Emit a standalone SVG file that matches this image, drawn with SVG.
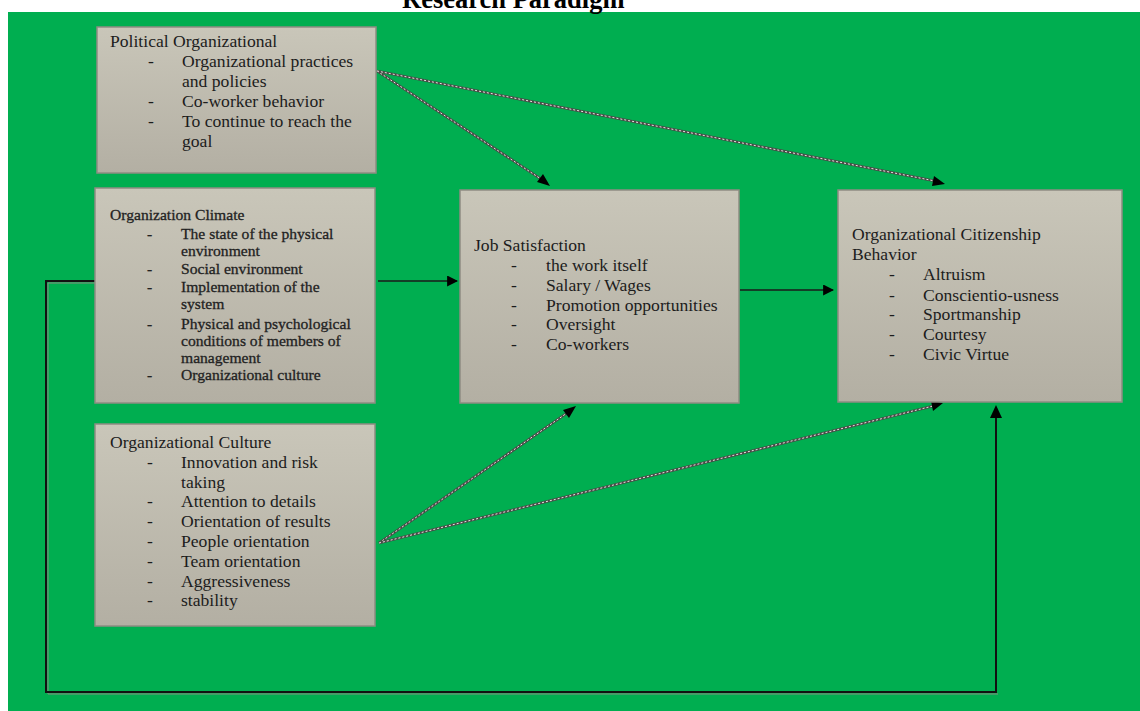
<svg xmlns="http://www.w3.org/2000/svg" width="1140" height="711" viewBox="0 0 1140 711">
<defs>
<linearGradient id="boxg" x1="0" y1="0" x2="0" y2="1">
<stop offset="0" stop-color="#c9c6b9"/>
<stop offset="1" stop-color="#b3afa3"/>
</linearGradient>
<marker id="ah" viewBox="0 0 10 10" refX="9" refY="5" markerWidth="11" markerHeight="11" markerUnits="userSpaceOnUse" orient="auto">
<path d="M0,0 L10,5 L0,10 z" fill="#000"/>
</marker>
</defs>
<style>
.box{fill:url(#boxg);stroke:#8e8c82;stroke-width:1.5}
.t{font-family:"Liberation Serif","Times New Roman",serif;font-size:17.6px;fill:#1c1c1c}
.s{font-family:"Liberation Serif","Times New Roman",serif;font-size:15.6px;fill:#222;stroke:#222;stroke-width:0.3}
.title{font-family:"Liberation Serif","Times New Roman",serif;font-size:26.5px;font-weight:bold;fill:#000}
.hatch{fill:none;stroke:#4a4a48;stroke-width:2.6}
.hatchw{fill:none;stroke:#e8e8e0;stroke-width:1;stroke-dasharray:2 2}
.solid{fill:none;stroke:#1a1a1a;stroke-width:1.5}
.fb{fill:none;stroke:#111;stroke-width:2}
.fbs{fill:none;stroke:#8a8a80;stroke-width:1}
</style>
<rect x="0" y="0" width="1140" height="711" fill="#ffffff"/>
<rect x="8" y="12" width="1132" height="699" fill="#00ae50"/>
<text class="title" x="402" y="8">Research Paradigm</text>

<g id="connectors">
<polyline class="fbs" points="97,283 48,283 48,694 998,694"/>
<polyline class="fb" points="97,281 46,281 46,692 996,692 996,417"/>
<path d="M990,418 L996,405 L1002,418 z" fill="#000"/>
<line class="hatch" x1="377" y1="71" x2="544" y2="181"/>
<line class="hatchw" x1="377" y1="71" x2="544" y2="181"/>
<path d="M550,186 L537,182 L543,174 z" fill="#000"/>
<line class="hatch" x1="377" y1="71" x2="935" y2="181"/>
<line class="hatchw" x1="377" y1="71" x2="935" y2="181"/>
<path d="M945,184 L932,186 L934,176 z" fill="#000"/>
<line class="solid" x1="378" y1="281" x2="457" y2="281" marker-end="url(#ah)"/>
<line class="solid" x1="740" y1="290" x2="833" y2="290" marker-end="url(#ah)"/>
<line class="hatch" x1="379" y1="543" x2="567" y2="413"/>
<line class="hatchw" x1="379" y1="543" x2="567" y2="413"/>
<path d="M576,406 L569,418 L563,410 z" fill="#000"/>
<line class="hatch" x1="379" y1="543" x2="933" y2="406"/>
<line class="hatchw" x1="379" y1="543" x2="933" y2="406"/>
<path d="M943,403 L933,411 L931,401 z" fill="#000"/>
</g>

<g id="political">
<rect class="box" x="97" y="27" width="279" height="146"/>
<text class="t" x="110" y="47">Political Organizational</text>
<text class="t" x="148" y="67">-</text><text class="t" x="182" y="67">Organizational practices</text>
<text class="t" x="182" y="87">and policies</text>
<text class="t" x="148" y="107">-</text><text class="t" x="182" y="107">Co-worker behavior</text>
<text class="t" x="148" y="127">-</text><text class="t" x="182" y="127">To continue to reach the</text>
<text class="t" x="182" y="147">goal</text>
</g>

<g id="climate">
<rect class="box" x="95" y="188" width="280" height="215"/>
<text class="s" x="110" y="220">Organization Climate</text>
<text class="s" x="147" y="239">-</text><text class="s" x="181" y="239">The state of the physical</text>
<text class="s" x="181" y="256">environment</text>
<text class="s" x="147" y="274">-</text><text class="s" x="181" y="274">Social environment</text>
<text class="s" x="147" y="292">-</text><text class="s" x="181" y="292">Implementation of the</text>
<text class="s" x="181" y="309">system</text>
<text class="s" x="147" y="329">-</text><text class="s" x="181" y="329">Physical and psychological</text>
<text class="s" x="181" y="346">conditions of members of</text>
<text class="s" x="181" y="363">management</text>
<text class="s" x="147" y="380">-</text><text class="s" x="181" y="380">Organizational culture</text>
</g>

<g id="culture">
<rect class="box" x="95" y="424" width="280" height="202"/>
<text class="t" x="110" y="448">Organizational Culture</text>
<text class="t" x="147" y="468">-</text><text class="t" x="181" y="468">Innovation and risk</text>
<text class="t" x="181" y="488">taking</text>
<text class="t" x="147" y="507">-</text><text class="t" x="181" y="507">Attention to details</text>
<text class="t" x="147" y="527">-</text><text class="t" x="181" y="527">Orientation of results</text>
<text class="t" x="147" y="547">-</text><text class="t" x="181" y="547">People orientation</text>
<text class="t" x="147" y="567">-</text><text class="t" x="181" y="567">Team orientation</text>
<text class="t" x="147" y="587">-</text><text class="t" x="181" y="587">Aggressiveness</text>
<text class="t" x="147" y="606">-</text><text class="t" x="181" y="606">stability</text>
</g>

<g id="job">
<rect class="box" x="460" y="190" width="279" height="213"/>
<text class="t" x="474" y="251">Job Satisfaction</text>
<text class="t" x="511" y="271">-</text><text class="t" x="546" y="271">the work itself</text>
<text class="t" x="511" y="291">-</text><text class="t" x="546" y="291">Salary / Wages</text>
<text class="t" x="511" y="311">-</text><text class="t" x="546" y="311">Promotion opportunities</text>
<text class="t" x="511" y="330">-</text><text class="t" x="546" y="330">Oversight</text>
<text class="t" x="511" y="350">-</text><text class="t" x="546" y="350">Co-workers</text>
</g>

<g id="ocb">
<rect class="box" x="838" y="190" width="284" height="212"/>
<text class="t" x="852" y="240">Organizational Citizenship</text>
<text class="t" x="852" y="260">Behavior</text>
<text class="t" x="889" y="280">-</text><text class="t" x="923" y="280">Altruism</text>
<text class="t" x="889" y="301">-</text><text class="t" x="923" y="301">Conscientio-usness</text>
<text class="t" x="889" y="320">-</text><text class="t" x="923" y="320">Sportmanship</text>
<text class="t" x="889" y="340">-</text><text class="t" x="923" y="340">Courtesy</text>
<text class="t" x="889" y="360">-</text><text class="t" x="923" y="360">Civic Virtue</text>
</g>
</svg>
